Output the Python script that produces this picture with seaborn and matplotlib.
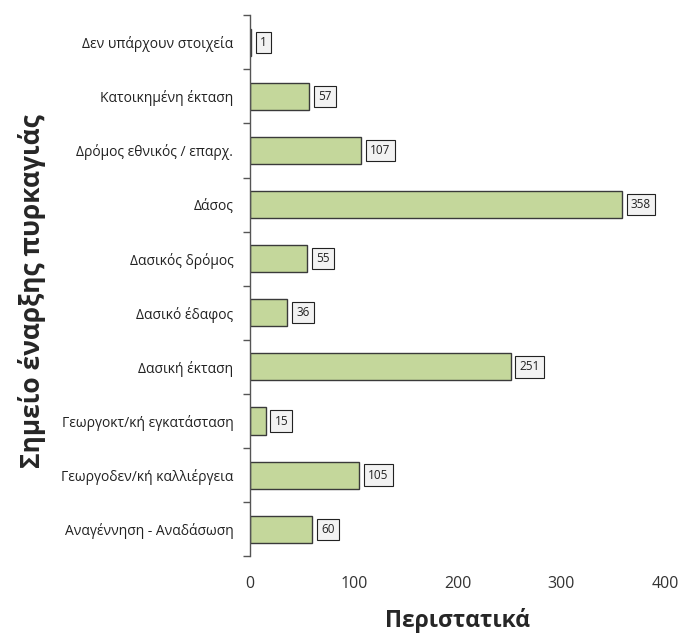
import matplotlib
matplotlib.use('Agg')
import matplotlib.pyplot as plt
import numpy as np
import pandas as pd
import seaborn as sns

CATEGORIES = [
    'Δεν υπάρχουν στοιχεία',
    'Κατοικημένη έκταση',
    'Δρόμος εθνικός / επαρχ.',
    'Δάσος',
    'Δασικός δρόμος',
    'Δασικό έδαφος',
    'Δασική έκταση',
    'Γεωργοκτ/κή εγκατάσταση',
    'Γεωργοδεν/κή καλλιέργεια',
    'Αναγέννηση - Αναδάσωση',
]
INCIDENTS = [1, 57, 107, 358, 55, 36, 251, 15, 105, 60]
X_TICKS = [0, 100, 200, 300, 400]

BAR_COLOR = '#c4d79b'
EDGE_COLOR = '#3a3a3a'


def plot_incidents():
    df = pd.DataFrame({'category': CATEGORIES, 'incidents': INCIDENTS})

    sns.set_style('white')
    plt.rcParams['font.family'] = ['Open Sans', 'DejaVu Sans']

    fig = plt.figure(figsize=(6.81, 6.35), dpi=100)
    ax = fig.add_axes([0.367, 0.124, 0.61, 0.852])

    sns.barplot(data=df, x='incidents', y='category', order=CATEGORIES,
                color=BAR_COLOR, edgecolor=EDGE_COLOR, linewidth=1.0,
                width=0.5, saturation=1, ax=ax)

    # value boxes just right of each bar
    for patch, value in zip(ax.patches, INCIDENTS):
        y = patch.get_y() + patch.get_height() / 2
        ax.annotate(f'{value}', xy=(patch.get_width(), y),
                    xytext=(6.5, 0), textcoords='offset points',
                    ha='left', va='center', fontsize=8.5, color='#222222',
                    bbox=dict(boxstyle='square,pad=0.35', facecolor='#f2f2f2',
                              edgecolor='#222222', linewidth=0.8))

    ax.set_xlim(0, 400)
    ax.set_ylim(len(CATEGORIES) - 0.5, -0.5)
    ax.set_xticks(X_TICKS)
    ax.set_xticklabels([str(t) for t in X_TICKS], fontsize=11.5, color='#333333')
    ax.tick_params(axis='x', length=0, pad=14)

    ax.set_yticks(np.arange(len(CATEGORIES)))
    ax.set_yticklabels(CATEGORIES, fontsize=10, color='#222222')
    ax.set_yticks(np.arange(len(CATEGORIES) + 1) - 0.5, minor=True)
    ax.tick_params(axis='y', which='major', length=0, pad=12)
    ax.tick_params(axis='y', which='minor', length=5, width=1, color='#555555',
                   left=True, direction='out')

    for side in ['top', 'right', 'bottom']:
        ax.spines[side].set_visible(False)
    ax.spines['left'].set_color('#555555')
    ax.spines['left'].set_linewidth(1.0)

    ax.set_xlabel('Περιστατικά', fontsize=16.5, fontweight='bold', labelpad=12)
    ax.set_ylabel('Σημείο έναρξης πυρκαγιάς', fontsize=19, fontweight='bold')
    ax.yaxis.set_label_coords(-0.49, 0.49)
    ax.grid(False)

    fig.savefig('out.png', dpi=100)


plot_incidents()
